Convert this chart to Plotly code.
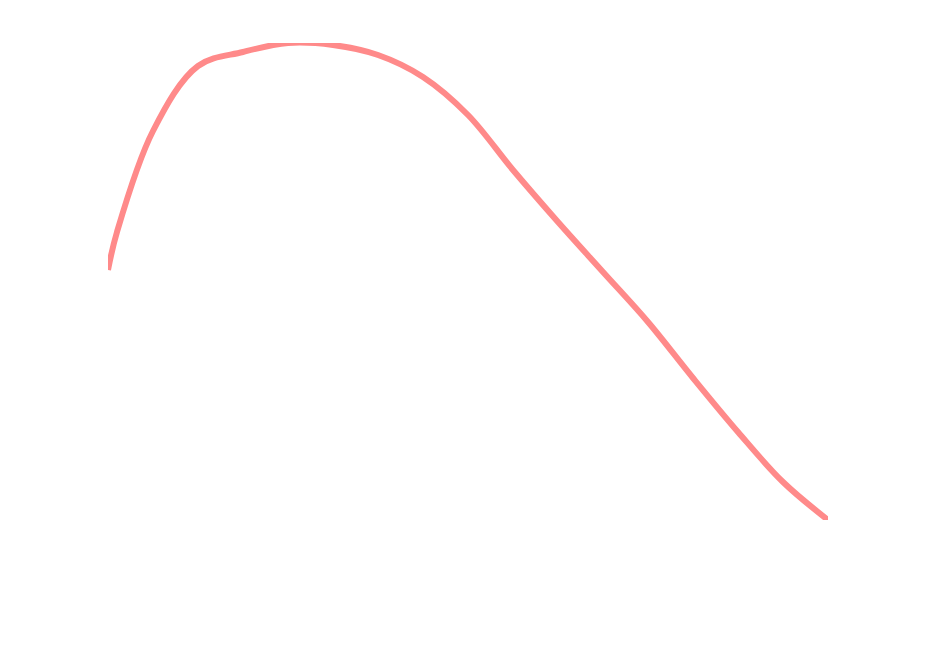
import plotly.graph_objects as go

# pontos da curva (unidades arbitrárias)
x_vals = [0, 0.2, 1, 2, 3, 4, 5, 6, 7, 8, 9, 10, 11, 12, 13, 14, 15, 16]
y_vals = [330, 368, 469, 534, 548, 557, 555, 545, 523, 485, 430, 378, 328, 278, 222, 168, 118, 80]

fig = go.Figure()
fig.add_trace(go.Scatter(
    x=x_vals, y=y_vals, mode='lines',
    line=dict(color='#ff8a8a', width=6, shape='spline', smoothing=1.0),
    cliponaxis=False, showlegend=False
))

fig.update_layout(
    width=928, height=672,
    paper_bgcolor='white', plot_bgcolor='white',
    margin=dict(l=100, r=108, t=35, b=160),
    xaxis=dict(visible=False, range=[0, 16]),
    yaxis=dict(visible=False, range=[80, 557]),
)

fig.write_html("out.html")
